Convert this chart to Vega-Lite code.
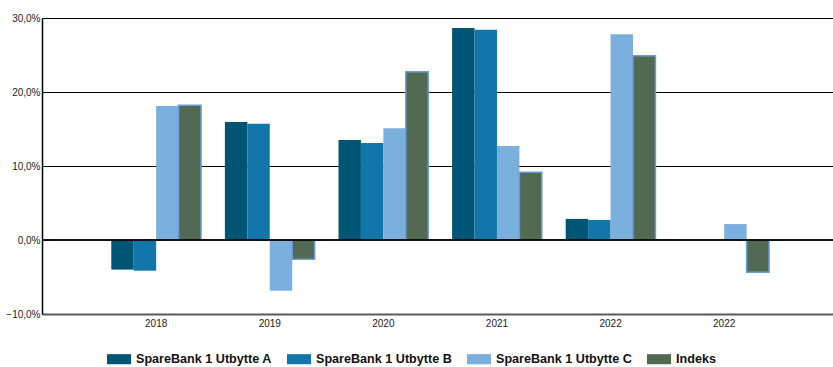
{
  "$schema": "https://vega.github.io/schema/vega-lite/v6.json",
  "width": 791,
  "height": 296,
  "autosize": {"type": "none"},
  "padding": {"left": 42, "top": 18, "right": 0, "bottom": 53},
  "background": "white",
  "config": {"view": {"stroke": null}},
  "data": {"values": [
    {"cat": "2018", "series": "SpareBank 1 Utbytte A", "v": -4.0},
    {"cat": "2018", "series": "SpareBank 1 Utbytte B", "v": -4.15},
    {"cat": "2018", "series": "SpareBank 1 Utbytte C", "v": 18.1},
    {"cat": "2018", "series": "Indeks", "v": 18.2},
    {"cat": "2019", "series": "SpareBank 1 Utbytte A", "v": 15.95},
    {"cat": "2019", "series": "SpareBank 1 Utbytte B", "v": 15.7},
    {"cat": "2019", "series": "SpareBank 1 Utbytte C", "v": -6.85},
    {"cat": "2019", "series": "Indeks", "v": -2.6},
    {"cat": "2020", "series": "SpareBank 1 Utbytte A", "v": 13.5},
    {"cat": "2020", "series": "SpareBank 1 Utbytte B", "v": 13.1},
    {"cat": "2020", "series": "SpareBank 1 Utbytte C", "v": 15.1},
    {"cat": "2020", "series": "Indeks", "v": 22.75},
    {"cat": "2021", "series": "SpareBank 1 Utbytte A", "v": 28.65},
    {"cat": "2021", "series": "SpareBank 1 Utbytte B", "v": 28.4},
    {"cat": "2021", "series": "SpareBank 1 Utbytte C", "v": 12.7},
    {"cat": "2021", "series": "Indeks", "v": 9.15},
    {"cat": "2022", "series": "SpareBank 1 Utbytte A", "v": 2.85},
    {"cat": "2022", "series": "SpareBank 1 Utbytte B", "v": 2.7},
    {"cat": "2022", "series": "SpareBank 1 Utbytte C", "v": 27.8},
    {"cat": "2022", "series": "Indeks", "v": 24.9},
    {"cat": "2022b", "series": "SpareBank 1 Utbytte C", "v": 2.15},
    {"cat": "2022b", "series": "Indeks", "v": -4.35}
  ]},
  "layer": [
    {
      "mark": {"type": "bar", "strokeWidth": 1.5},
      "encoding": {
        "x": {
          "field": "cat", "type": "nominal", "sort": null,
          "scale": {"paddingInner": 0.21, "paddingOuter": 0.5865, "align": 0.52},
          "axis": {
            "title": null, "labelAngle": 0, "ticks": false,
            "labelExpr": "slice(datum.label, 0, 4)",
            "labelFont": "Liberation Sans", "labelFontSize": 10, "labelColor": "#222",
            "labelPadding": 4,
            "domainColor": "#5a5a5a", "domainWidth": 2
          }
        },
        "xOffset": {
          "field": "series", "type": "nominal",
          "sort": ["SpareBank 1 Utbytte A", "SpareBank 1 Utbytte B", "SpareBank 1 Utbytte C", "Indeks"],
          "scale": {"paddingInner": 0, "paddingOuter": 0}
        },
        "y": {
          "field": "v", "type": "quantitative",
          "scale": {"domain": [-10, 30], "nice": false},
          "axis": {
            "title": null, "values": [-10, 0, 10, 20, 30], "ticks": false,
            "labelExpr": "replace(format(datum.value, '.1f'), '.', ',') + '%'",
            "labelFont": "Liberation Sans", "labelFontSize": 10, "labelColor": "#222",
            "labelPadding": 2,
            "domainColor": "#000", "domainWidth": 1.5,
            "grid": true,
            "gridColor": {"condition": {"test": "datum.value < -5", "value": "transparent"}, "value": "#000"},
            "gridWidth": 1.2
          }
        },
        "color": {
          "field": "series", "type": "nominal",
          "sort": ["SpareBank 1 Utbytte A", "SpareBank 1 Utbytte B", "SpareBank 1 Utbytte C", "Indeks"],
          "scale": {
            "domain": ["SpareBank 1 Utbytte A", "SpareBank 1 Utbytte B", "SpareBank 1 Utbytte C", "Indeks"],
            "range": ["#005575", "#1177aa", "#7aafde", "#526a52"]
          },
          "legend": {
            "title": null, "orient": "none", "direction": "horizontal",
            "legendX": 65, "legendY": 329,
            "gridAlign": "all",
            "symbolType": "M-1,-0.42H1V0.42H-1Z", "symbolSize": 576,
            "symbolStrokeWidth": 0,
            "labelFont": "Liberation Sans", "labelFontWeight": "bold",
            "labelFontSize": 12.6, "labelColor": "#111", "labelOffset": 5,
            "columnPadding": 15
          }
        },
        "stroke": {
          "condition": {"test": "datum.series === 'Indeks'", "value": "#6a9be0"},
          "value": null
        }
      }
    },
    {
      "mark": {"type": "rule", "color": "#111", "strokeWidth": 2},
      "encoding": {"y": {"datum": 0, "type": "quantitative"}}
    }
  ]
}
